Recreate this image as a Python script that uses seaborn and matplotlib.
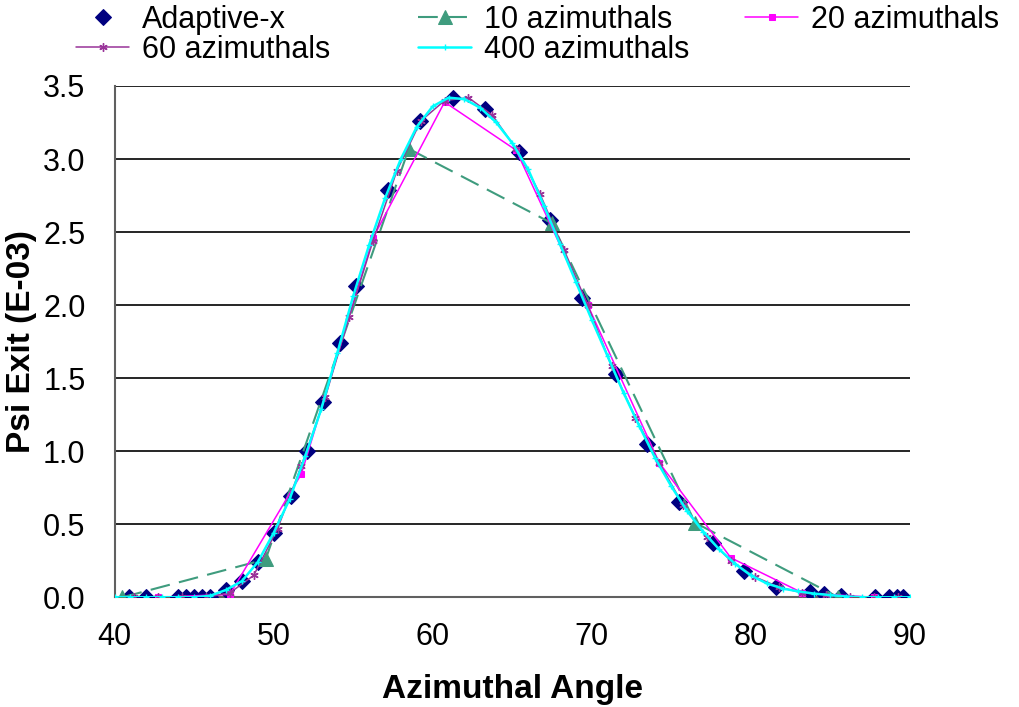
import matplotlib
matplotlib.use("Agg")
import matplotlib.pyplot as plt
import seaborn as sns

# ---- data ----
adaptive_x = [40.9, 42.0, 44.0, 44.5, 45.0, 45.5, 46.0, 47.0, 48.0, 49.0, 50.0, 51.1,
              52.1, 53.1, 54.2, 55.2, 57.2, 59.2, 61.3, 63.3, 65.4, 67.4, 69.4, 71.5,
              73.5, 75.5, 77.6, 79.6, 81.6, 83.7, 84.6, 85.7, 87.8, 88.7, 89.2, 89.6]
adaptive_y = [0.0, 0.0, 0.0, 0.0, 0.0, 0.0, 0.0, 0.05, 0.11, 0.24, 0.44, 0.69,
              1.00, 1.34, 1.74, 2.13, 2.79, 3.26, 3.42, 3.34, 3.05, 2.58, 2.05, 1.53,
              1.05, 0.655, 0.37, 0.18, 0.07, 0.035, 0.02, 0.01, 0.0, 0.0, 0.0, 0.0]

az10_x = [40.5, 49.5, 58.5, 67.5, 76.5, 85.5]
az10_y = [0.0, 0.26, 3.07, 2.56, 0.51, 0.0]

az20_x = [42.75, 47.25, 51.75, 56.25, 60.75, 65.25, 69.75, 74.25, 78.75, 83.25, 87.75]
az20_y = [0.0, 0.02, 0.845, 2.46, 3.39, 3.06, 2.00, 0.92, 0.27, 0.03, 0.0]

az60_x = [41.25, 42.75, 44.25, 45.75, 47.25, 48.75, 50.25, 51.75, 53.25, 54.75, 56.25,
          57.75, 59.25, 60.75, 62.25, 63.75, 65.25, 66.75, 68.25, 69.75, 71.25, 72.75,
          74.25, 75.75, 77.25, 78.75, 80.25, 81.75, 83.25, 84.75, 86.25, 87.75, 89.25]
az60_y = [0.0, 0.0, 0.0, 0.0, 0.03, 0.15, 0.47, 0.90, 1.37, 1.92, 2.44,
          2.92, 3.26, 3.40, 3.42, 3.30, 3.07, 2.76, 2.38, 2.00, 1.58, 1.23,
          0.92, 0.63, 0.41, 0.25, 0.14, 0.07, 0.03, 0.015, 0.0, 0.0, 0.0]

az400_x = [40, 41, 42, 43, 44, 45, 46, 47, 48, 49, 50, 51, 52, 53, 54, 55, 56, 57, 58,
           59, 60, 61, 62, 63, 64, 65, 66, 67, 68, 69, 70, 71, 72, 73, 74, 75, 76, 77,
           78, 79, 80, 81, 82, 83, 84, 85, 86, 87, 88, 89, 90]
az400_y = [0.0, 0.0, 0.0, 0.0, 0.0, 0.0, 0.01, 0.05, 0.11, 0.24, 0.44, 0.67, 0.97, 1.29,
           1.67, 2.06, 2.41, 2.73, 3.00, 3.22, 3.36, 3.42, 3.41, 3.35, 3.25, 3.11, 2.93,
           2.68, 2.42, 2.16, 1.90, 1.65, 1.40, 1.17, 0.95, 0.76, 0.59, 0.45, 0.33, 0.23,
           0.15, 0.095, 0.06, 0.04, 0.025, 0.015, 0.005, 0.0, 0.0, 0.0, 0.0]

x_ticks = [40, 50, 60, 70, 80, 90]
y_ticks = [0.0, 0.5, 1.0, 1.5, 2.0, 2.5, 3.0, 3.5]

# ---- style ----
sns.set_style("white")
plt.rcParams['font.family'] = ['Liberation Sans', 'DejaVu Sans']
plt.rcParams['text.color'] = 'black'
plt.rcParams['axes.labelcolor'] = 'black'

fig = plt.figure(figsize=(10.2, 7.07), dpi=100)
ax = fig.add_axes([0.1123, 0.1552, 0.892 - 0.1123, 0.8784 - 0.1552])

for yv in y_ticks[1:]:
    ax.axhline(yv, color='black', lw=1.2, zorder=0)

teal = '#3f9c7e'
sns.lineplot(x=adaptive_x, y=adaptive_y, ax=ax, sort=False, estimator=None,
             linestyle='none', marker='D', markersize=8.5, color='#000080',
             markeredgecolor='#000080', label='Adaptive-x', zorder=2)
sns.lineplot(x=az10_x, y=az10_y, ax=ax, sort=False, estimator=None,
             color=teal, lw=1.5, dashes=(9.5, 4.5), marker='^', markersize=10,
             markeredgecolor=teal, label='10 azimuthals', zorder=3)
sns.lineplot(x=az20_x, y=az20_y, ax=ax, sort=False, estimator=None,
             color='#ff00ff', lw=1.1, marker='s', markersize=5,
             markeredgecolor='#ff00ff', label='20 azimuthals', zorder=4)
sns.lineplot(x=az60_x, y=az60_y, ax=ax, sort=False, estimator=None,
             color='#993399', lw=1.1, marker=(6, 2, 0), markersize=6,
             markeredgewidth=1, markeredgecolor='#993399', label='60 azimuthals', zorder=5)
sns.lineplot(x=az400_x, y=az400_y, ax=ax, sort=False, estimator=None,
             color='#00ffff', lw=1.8, marker='+', markersize=4,
             markeredgewidth=1, markeredgecolor='#00ffff', label='400 azimuthals', zorder=6)

ax.set_xlim(40, 90)
ax.set_ylim(0, 3.5)
ax.set_xticks(x_ticks)
ax.set_xticklabels([str(v) for v in x_ticks])
ax.set_yticks(y_ticks)
ax.set_yticklabels([f"{v:.1f}" for v in y_ticks])
ax.tick_params(axis='both', labelsize=22, direction='out', length=8, width=1.2,
               colors='black')
ax.tick_params(axis='y', pad=13)
ax.tick_params(axis='x', pad=10)
for s in ['top', 'right']:
    ax.spines[s].set_visible(False)
for s in ['left', 'bottom']:
    ax.spines[s].set_color('#606060')
    ax.spines[s].set_linewidth(1.5)
ax.spines['bottom'].set_zorder(1)

ax.set_xlabel('Azimuthal Angle', fontsize=24, fontweight='bold', labelpad=16,
              color='black')
ax.set_ylabel('Psi Exit (E-03)', fontsize=24, fontweight='bold', color='black')
ax.yaxis.set_label_coords(-0.098, 0.5)

handles, labels = ax.get_legend_handles_labels()
ax.get_legend().remove()
W, H = 1020.0, 707.0
cols = [([0, 3], 76), ([1, 4], 418), ([2], 745)]
for idx, xpx in cols:
    leg = fig.legend([handles[i] for i in idx], [labels[i] for i in idx],
                     loc='upper left', bbox_to_anchor=(xpx / W, 1 - 5 / H),
                     frameon=False, fontsize=22, handlelength=1.75, handletextpad=0.4,
                     labelspacing=0.0, borderpad=0.0, borderaxespad=0.0)
    for t in leg.get_texts():
        t.set_color('black')

fig.savefig('out.png', dpi=100)
